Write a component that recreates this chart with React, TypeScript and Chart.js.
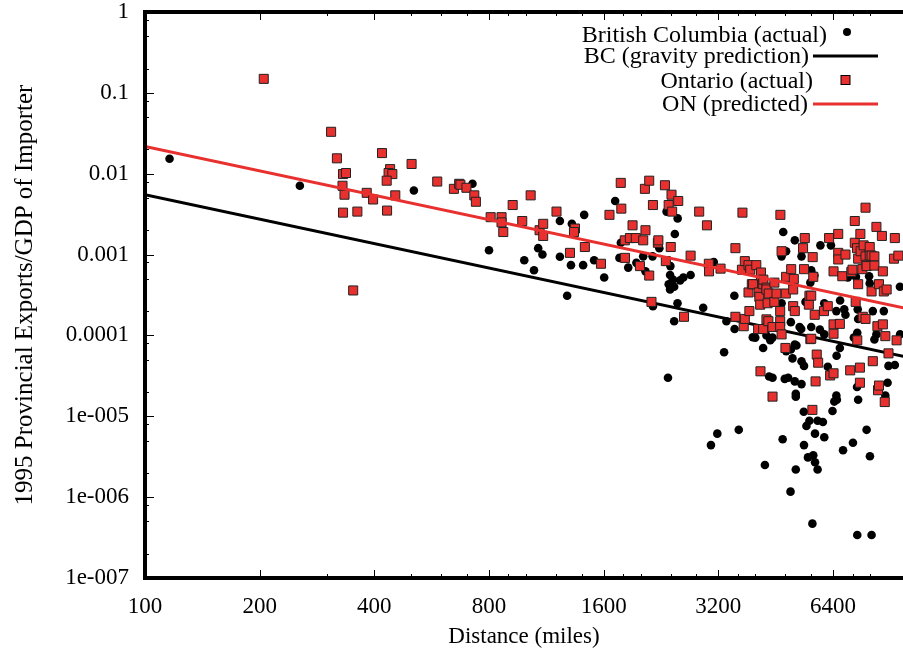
import React, { useEffect, useRef } from 'react';
import { Chart, registerables } from 'chart.js';

Chart.register(...registerables);

// ---- axis definitions ----
const X_MIN = 100;
const X_MAX = 9770;
const Y_MIN = 1e-7;
const Y_MAX = 1;
const X_TICKS = [100, 200, 400, 800, 1600, 3200, 6400];
const X_TICK_LABELS = ['100', '200', '400', '800', '1600', '3200', '6400'];
const X_MINOR_TICKS = [300, 500, 600, 700, 900, 1000, 1200, 1400, 1800, 2000, 2400, 2800, 3600, 4000, 4800, 5600, 7200, 8000];
const Y_TICKS = [1e-7, 1e-6, 1e-5, 1e-4, 1e-3, 1e-2, 1e-1, 1];
const Y_TICK_LABELS = ['1e-007', '1e-006', '1e-005', '0.0001', '0.001', '0.01', '0.1', '1'];
const Y_MINOR_FACTORS = [2, 5, 8];

const X_TITLE = 'Distance (miles)';
const Y_TITLE = '1995 Provincial Exports/GDP of Importer';
const SERIES_LABELS = ['British Columbia (actual)', 'BC (gravity prediction)', 'Ontario (actual)', 'ON (predicted)'];

// ---- data: [distance in miles, exports / GDP] ----
const BC_ACTUAL: [number, number][] = [
  [116, 0.0153], [255, 0.0071], [508, 0.0062], [724, 0.0075], [800, 0.00113], [990, 0.00085],
  [1050, 0.00064], [1077, 0.0012], [1105, 0.001], [1228, 0.0026], [1228, 0.00094], [1283, 0.00031],
  [1313, 0.00074], [1320, 0.0024], [1413, 0.00074], [1422, 0.0031], [1510, 0.00085], [1605, 0.00052],
  [1715, 0.0046], [1760, 0.00091], [1775, 0.0014], [1856, 0.00069], [1950, 0.00079], [2032, 0.00095],
  [2060, 0.00062], [2150, 0.00095], [2155, 0.00023], [2240, 0.0012], [2340, 0.0034], [2360, 3.0e-5],
  [2370, 0.00043], [2390, 0.00056], [2390, 0.00037], [2395, 0.00072], [2430, 0.00049], [2450, 0.0004],
  [2450, 0.00015], [2460, 0.0018], [2500, 0.00025], [2502, 0.0028], [2540, 0.00048], [2590, 0.00052],
  [2706, 0.00056], [2920, 0.00022], [3060, 4.4e-6], [3113, 0.00081], [3180, 6.1e-6], [3313, 6.2e-5],
  [3360, 0.00015], [3525, 0.00031], [3530, 0.00012], [3620, 6.8e-6], [3940, 9.5e-5], [4000, 9.4e-5],
  [4195, 7.0e-5], [4240, 0.000115], [4240, 2.5e-6], [4280, 0.0001], [4350, 3.1e-5], [4380, 8.7e-5],
  [4440, 9.4e-5], [4440, 3.0e-5], [4690, 0.00025], [4690, 0.00095], [4720, 5.2e-6], [4737, 0.0019],
  [4780, 2.9e-5], [4820, 0.0011], [4820, 6.4e-5], [4880, 3.0e-5], [4950, 1.17e-6], [4960, 0.000146],
  [4960, 6.7e-5], [5010, 5.2e-5], [5080, 0.0015], [5080, 7.7e-5], [5080, 2.7e-5], [5110, 1.9e-5],
  [5110, 1.75e-5], [5110, 2.2e-6], [5130, 7.5e-5], [5230, 0.000127], [5280, 0.00012], [5290, 0.00095],
  [5290, 4.8e-5], [5290, 2.5e-5], [5363, 1.14e-5], [5370, 4.2e-5], [5370, 4.4e-6], [5420, 0.00026],
  [5450, 7.6e-6], [5500, 3.1e-6], [5550, 8.8e-6], [5580, 0.00045], [5610, 0.00064], [5610, 0.000127],
  [5650, 4.7e-7], [5680, 3.3e-6], [5720, 0.00055], [5740, 6.1e-6], [5740, 2.7e-6], [5830, 8.8e-6],
  [5830, 2.2e-6], [5910, 0.000118], [5930, 0.0013], [6020, 8.5e-6], [6070, 0.00025], [6070, 0.000103],
  [6070, 5.5e-6], [6200, 4.1e-5], [6320, 0.0013], [6380, 1.16e-5], [6450, 1.52e-5], [6530, 0.0002],
  [6530, 1.8e-5], [6540, 5.6e-5], [6550, 1.6e-5], [6670, 7.0e-5], [6680, 0.00027], [6800, 3.8e-6],
  [6850, 0.00021], [6900, 0.00018], [7000, 0.00052], [7220, 4.7e-6], [7260, 9.4e-5], [7350, 0.00053],
  [7400, 2.3e-5], [7410, 0.000108], [7410, 3.4e-7], [7430, 0.00021], [7450, 0.00016], [7450, 1.6e-5],
  [7840, 6.8e-6], [7960, 0.00054], [7990, 0.00044], [8000, 3.2e-6], [8080, 3.4e-7], [8140, 0.0002],
  [8220, 8.9e-5], [8320, 0.000103], [8700, 0.0002], [8780, 1.8e-5], [8900, 2.6e-5], [8950, 4.2e-5],
  [9300, 4.3e-5], [9590, 0.0004], [9600, 0.000103],
];

const ON_ACTUAL: [number, number][] = [
  [205, 0.149], [308, 0.033], [319, 0.0155], [331, 0.0099], [337, 0.0102], [330, 0.0071], [334, 0.0055],
  [331, 0.0033], [352, 0.00036], [361, 0.0034], [382, 0.0058], [397, 0.0048], [419, 0.018], [440, 0.0114],
  [436, 0.0102], [446, 0.0099], [431, 0.0082], [454, 0.0054], [432, 0.0035], [501, 0.0132], [585, 0.008],
  [647, 0.0065], [668, 0.0075], [673, 0.0073], [698, 0.0067], [732, 0.0054], [739, 0.0045], [808, 0.0029],
  [863, 0.0029], [863, 0.0025], [872, 0.0019], [923, 0.0041], [978, 0.0026], [1029, 0.0054], [1086, 0.002],
  [1110, 0.0024], [1110, 0.0017], [1203, 0.0034], [1305, 0.00105], [1345, 0.0021], [1337, 0.0019],
  [1428, 0.00124], [1574, 0.00077], [1657, 0.0031], [1774, 0.0077], [1780, 0.0037], [1818, 0.0015],
  [1820, 0.00091], [1875, 0.0016], [1905, 0.0023], [1943, 0.0016], [1992, 0.00072], [2032, 0.0015],
  [2053, 0.0065], [2060, 0.002], [2107, 0.0082], [2107, 0.00055], [2136, 0.00026], [2155, 0.0041],
  [2220, 0.0014], [2227, 0.0015], [2317, 0.0072], [2330, 0.00083], [2370, 0.0041], [2400, 0.00124],
  [2411, 0.0055], [2420, 0.0034], [2511, 0.0046], [2600, 0.00017], [2706, 0.00097], [2850, 0.0034],
  [2987, 0.0023], [3021, 0.00077], [3025, 0.00062], [3243, 0.00067], [3548, 0.0012], [3548, 0.00017],
  [3690, 0.00065], [3702, 0.0033], [3730, 0.00013], [3755, 0.00083], [3755, 0.00016], [3840, 0.00074],
  [3840, 0.00034], [3860, 0.0002], [3880, 0.00065], [3918, 0.00043], [3946, 0.00043], [4025, 0.00074],
  [4070, 0.00012], [4085, 0.00034], [4100, 0.0003], [4120, 0.00024], [4128, 3.6e-5], [4140, 0.00055],
  [4140, 0.0006], [4195, 0.00043], [4195, 0.00012], [4200, 0.00049], [4280, 0.00039], [4280, 0.00037],
  [4280, 0.000158], [4310, 0.00025], [4330, 0.00015], [4340, 0.00033], [4440, 0.000127], [4440, 1.75e-5],
  [4490, 0.00045], [4490, 0.00026], [4548, 0.00033], [4650, 0.0002], [4650, 0.00015], [4650, 0.000127],
  [4656, 0.0031], [4690, 0.0011], [4690, 0.000103], [4800, 7.0e-5], [4810, 0.00033], [4820, 0.00053],
  [4970, 0.00066], [5030, 0.00037], [5030, 0.00023], [5050, 0.0005], [5080, 0.0002], [5340, 0.0012],
  [5370, 0.00066], [5396, 0.0016], [5530, 0.00024], [5550, 0.00031], [5580, 9.0e-5], [5610, 0.00031],
  [5610, 9.1e-5], [5650, 1.2e-5], [5660, 0.00093], [5680, 0.00053], [5730, 0.00018], [5760, 2.7e-5],
  [5800, 5.8e-5], [5850, 4.6e-5], [6060, 0.0002], [6200, 0.00023], [6250, 0.0016], [6290, 3.2e-5],
  [6420, 0.00062], [6420, 0.000137], [6420, 0.000105], [6420, 3.4e-5], [6605, 0.0018], [6605, 0.00105],
  [6605, 0.00087], [6670, 0.000139], [6770, 0.00054], [6900, 0.001], [7100, 3.7e-5], [7150, 0.00061],
  [7200, 0.00065], [7300, 0.0026], [7300, 0.0014], [7340, 0.00026], [7400, 0.0012], [7410, 8.7e-5],
  [7450, 0.00089], [7450, 0.00043], [7530, 4.0e-5], [7530, 2.6e-5], [7550, 0.0018], [7560, 0.0011],
  [7640, 0.00066], [7660, 0.00017], [7700, 0.0013], [7790, 0.0038], [7790, 0.00095], [7790, 0.00016],
  [7840, 0.00075], [7840, 0.00072], [7990, 0.00124], [7990, 0.00097], [8080, 0.00097], [8080, 0.00035],
  [8140, 4.8e-5], [8220, 0.00095], [8220, 0.00073], [8320, 0.0022], [8370, 0.00013], [8400, 2.1e-5],
  [8450, 0.00043], [8450, 2.4e-5], [8600, 0.0017], [8650, 0.00062], [8650, 0.000137], [8700, 0.00035],
  [8750, 1.5e-5], [8780, 9.8e-5], [8850, 0.00037], [8950, 6.0e-5], [9250, 0.00089], [9300, 0.0016],
  [9400, 8.7e-5], [9500, 0.00097],
];

// fitted gravity-model lines (end points)
const BC_PREDICTED: [number, number][] = [[100, 0.0055], [10000, 5.4e-5]];
const ON_PREDICTED: [number, number][] = [[100, 0.0217], [10000, 0.000215]];

const RED = '#e8302e';
const FONT_FAMILY = '"Liberation Serif", "Times New Roman", serif';
const FONT_SIZE = 23;
const LEGEND_FONT_SIZE = 24;
const Y_TITLE_SIZE = 25;

const toXY = (arr: [number, number][]) => arr.map(([x, y]) => ({ x, y }));

const gnuplotPlugin = {
  id: 'gnuplotDecor',
  afterDatasetsDraw(chart: any) {
    const { ctx, chartArea: a, scales } = chart;
    const xs = scales.x;
    const ys = scales.y;
    ctx.save();
    ctx.strokeStyle = '#000';
    ctx.lineWidth = 1;
    ctx.beginPath();
    const xTick = (v: number, len: number) => {
      const px = Math.round(xs.getPixelForValue(v)) + 0.5;
      ctx.moveTo(px, a.bottom);
      ctx.lineTo(px, a.bottom - len);
      ctx.moveTo(px, a.top);
      ctx.lineTo(px, a.top + len);
    };
    const yTick = (v: number, len: number) => {
      const py = Math.round(ys.getPixelForValue(v)) + 0.5;
      ctx.moveTo(a.left, py);
      ctx.lineTo(a.left + len, py);
    };
    X_TICKS.forEach((v) => xTick(v, 8));
    X_MINOR_TICKS.forEach((v) => xTick(v, 4));
    Y_TICKS.forEach((v) => yTick(v, 9));
    for (let i = 0; i < Y_TICKS.length - 1; i++) {
      Y_MINOR_FACTORS.forEach((f) => yTick(Y_TICKS[i] * f, 4));
    }
    ctx.stroke();

    // frame (right edge lies outside the picture)
    ctx.lineWidth = 4;
    ctx.beginPath();
    ctx.moveTo(a.right + 4, a.top);
    ctx.lineTo(a.left, a.top);
    ctx.lineTo(a.left, a.bottom);
    ctx.lineTo(a.right + 4, a.bottom);
    ctx.stroke();
    ctx.restore();
  },
  afterDraw(chart: any) {
    const { ctx } = chart;
    const ds = chart.data.datasets;
    const entries = [
      { text: ds[0].label, right: 827, base: 42, kind: 'circle', sy: 32 },
      { text: ds[1].label, right: 809, base: 63, kind: 'line', sy: 56, color: '#000' },
      { text: ds[2].label, right: 813, base: 88, kind: 'rect', sy: 80 },
      { text: ds[3].label, right: 808, base: 111, kind: 'line', sy: 104, color: RED },
    ];
    ctx.save();
    ctx.font = `${LEGEND_FONT_SIZE}px ${FONT_FAMILY}`;
    ctx.textAlign = 'right';
    ctx.textBaseline = 'alphabetic';
    entries.forEach((e) => {
      ctx.fillStyle = '#000';
      ctx.fillText(e.text, e.right, e.base);
      if (e.kind === 'circle') {
        ctx.beginPath();
        ctx.arc(847, e.sy, 4, 0, Math.PI * 2);
        ctx.fill();
      } else if (e.kind === 'rect') {
        ctx.fillStyle = RED;
        ctx.fillRect(841, e.sy - 4.5, 9, 9);
        ctx.strokeStyle = '#000';
        ctx.lineWidth = 1;
        ctx.strokeRect(841, e.sy - 4.5, 9, 9);
      } else {
        ctx.strokeStyle = e.color;
        ctx.lineWidth = 3;
        ctx.beginPath();
        ctx.moveTo(813, e.sy);
        ctx.lineTo(878, e.sy);
        ctx.stroke();
      }
    });
    ctx.restore();
  },
};

export default function App() {
  const canvasRef = useRef<HTMLCanvasElement | null>(null);

  useEffect(() => {
    if (!canvasRef.current) return;
    const chart = new Chart(canvasRef.current, {
      type: 'scatter',
      data: {
        datasets: [
          {
            label: SERIES_LABELS[0],
            data: toXY(BC_ACTUAL),
            pointStyle: 'circle',
            pointRadius: 4.3,
            pointBackgroundColor: '#000',
            pointBorderWidth: 0,
            order: 4,
          },
          {
            label: SERIES_LABELS[1],
            data: toXY(BC_PREDICTED),
            showLine: true,
            borderColor: '#000',
            borderWidth: 3,
            pointRadius: 0,
            order: 3,
          },
          {
            label: SERIES_LABELS[2],
            data: toXY(ON_ACTUAL),
            pointStyle: 'rect',
            pointRadius: 6.4,
            pointBackgroundColor: RED,
            pointBorderColor: '#222',
            pointBorderWidth: 1,
            order: 2,
          },
          {
            label: SERIES_LABELS[3],
            data: toXY(ON_PREDICTED),
            showLine: true,
            borderColor: RED,
            borderWidth: 3,
            pointRadius: 0,
            order: 1,
          },
        ],
      },
      options: {
        animation: false,
        responsive: false,
        devicePixelRatio: 1,
        layout: { autoPadding: false, padding: { top: 12, right: 0, left: 0, bottom: 0 } },
        plugins: {
          legend: { display: false },
          tooltip: { enabled: false },
        },
        scales: {
          x: {
            type: 'logarithmic',
            min: X_MIN,
            max: X_MAX,
            grid: { display: false, drawTicks: false },
            border: { display: false },
            afterBuildTicks: (scale: any) => {
              scale.ticks = X_TICKS.map((value) => ({ value }));
            },
            afterFit: (scale: any) => {
              scale.height = 81;
              scale.paddingLeft = 0;
              scale.paddingRight = 0;
            },
            ticks: {
              autoSkip: false,
              maxRotation: 0,
              padding: 15,
              color: '#000',
              font: { family: FONT_FAMILY, size: FONT_SIZE },
              callback: (_v: any, i: number) => X_TICK_LABELS[i],
            },
            title: {
              display: true,
              text: X_TITLE,
              color: '#000',
              font: { family: FONT_FAMILY, size: FONT_SIZE },
              padding: { top: 0, bottom: 8 },
            },
          },
          y: {
            type: 'logarithmic',
            min: Y_MIN,
            max: Y_MAX,
            grid: { display: false, drawTicks: false },
            border: { display: false },
            afterBuildTicks: (scale: any) => {
              scale.ticks = Y_TICKS.map((value) => ({ value }));
            },
            afterFit: (scale: any) => {
              scale.width = 145;
              scale.paddingTop = 0;
              scale.paddingBottom = 0;
            },
            ticks: {
              autoSkip: false,
              padding: 16,
              color: '#000',
              font: { family: FONT_FAMILY, size: FONT_SIZE },
              callback: (_v: any, i: number) => Y_TICK_LABELS[i],
            },
            title: {
              display: true,
              text: Y_TITLE,
              color: '#000',
              font: { family: FONT_FAMILY, size: Y_TITLE_SIZE },
              padding: { top: 10, bottom: 0 },
            },
          },
        },
      },
      plugins: [gnuplotPlugin],
    } as any);
    return () => chart.destroy();
  }, []);

  return (
    <div style={{ position: 'absolute', left: 0, top: 0, width: 903, height: 659, background: '#fff' }}>
      <canvas ref={canvasRef} width={903} height={659} style={{ display: 'block' }} />
    </div>
  );
}
